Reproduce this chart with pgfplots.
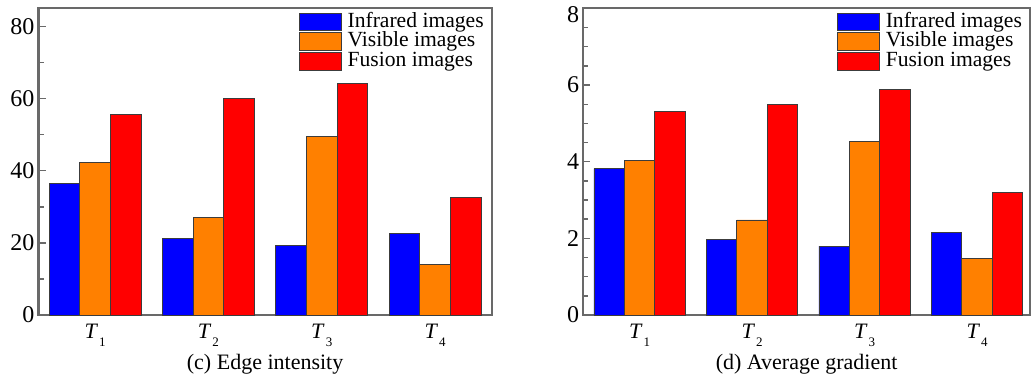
\documentclass[border=0pt]{standalone}
\usepackage{fontspec}
\setmainfont{Liberation Serif}
\usepackage{pgfplots}
\pgfplotsset{compat=1.18}

\definecolor{irblue}{RGB}{0,0,255}
\definecolor{visorange}{RGB}{255,128,0}
\definecolor{fusred}{RGB}{255,0,0}
\definecolor{framegray}{RGB}{105,105,105}
\definecolor{edgegray}{RGB}{60,60,60}

% task label: italic T with a small, low subscript
\newcommand{\Tsub}[1]{\textit{T}\kern0.5pt\raisebox{-3.8pt}{\fontsize{6.5}{7}\selectfont #1}}

\pgfplotsset{
  barpanel/.style={
    scale only axis,
    height=153.3pt,
    anchor=south west,
    ybar=0pt, bar width=0.27,
    xmin=-0.5, ymin=0,
    xtick={0,1,2,3},
    xticklabels={{\Tsub{1}},{\Tsub{2}},{\Tsub{3}},{\Tsub{4}}},
    x tick style={draw=none},
    tick pos=left, tick align=inside,
    axis line style={draw=framegray, line width=1pt},
    y tick style={draw=framegray, line width=0.7pt},
    major tick length=3.5pt, minor tick length=2.5pt,
    /pgf/number format/assume math mode=true,
    yticklabel style={font=\fontsize{12}{13}\selectfont, xshift=1.5pt},
    xticklabel style={font=\fontsize{11}{12}\selectfont, yshift=-1pt},
    xlabel style={font=\fontsize{11}{12}\selectfont, yshift=3pt},
    legend style={draw=none, fill=none, at={(1,1)}, anchor=north east,
      xshift=-0.8pt, yshift=0.5pt, row sep=0pt, column sep=3pt,
      font=\fontsize{10.8}{11}\selectfont,
      nodes={inner sep=0pt, text height=7.6pt, text depth=2.3pt}},
    legend cell align=left,
    legend image code/.code={\draw[#1] (0pt,-4.4pt) rectangle (21pt,4.4pt);},
    every axis plot/.append style={draw=edgegray, line width=0.4pt},
  }
}

\begin{document}
\begin{tikzpicture}
\useasboundingbox (0,0) rectangle (516pt,188.5pt);

% (c) Edge intensity
\begin{axis}[barpanel,
  at={(19.25pt,31pt)}, width=226.6pt,
  xmax=3.5, ymax=85,
  ytick={0,20,40,60,80}, minor y tick num=1,
  xlabel={(c) Edge intensity}]
\addplot[fill=irblue] coordinates {(0,36.5) (1,21.2) (2,19.3) (3,22.7)};
\addplot[fill=visorange] coordinates {(0,42.4) (1,27.1) (2,49.5) (3,14.1)};
\addplot[fill=fusred] coordinates {(0,55.5) (1,60.0) (2,64.1) (3,32.6)};
\legend{Infrared images, Visible images, Fusion images}
\end{axis}

% (d) Average gradient; the top label sits a little below the frame
\begin{axis}[barpanel,
  at={(291.65pt,31pt)}, width=223.3pt,
  xmax=3.47, ymax=8,
  ytick={0,2,4,6,8}, minor y tick num=3,
  yticklabels={0,2,4,6,{}},
  extra y ticks={8}, extra y tick labels={8},
  extra y tick style={major tick length=0pt, yticklabel style={yshift=-3pt}},
  xlabel={(d) Average gradient}]
\addplot[fill=irblue] coordinates {(0,3.82) (1,1.96) (2,1.80) (3,2.15)};
\addplot[fill=visorange] coordinates {(0,4.03) (1,2.48) (2,4.54) (3,1.48)};
\addplot[fill=fusred] coordinates {(0,5.32) (1,5.49) (2,5.89) (3,3.19)};
\legend{Infrared images, Visible images, Fusion images}
\end{axis}
\end{tikzpicture}
\end{document}
